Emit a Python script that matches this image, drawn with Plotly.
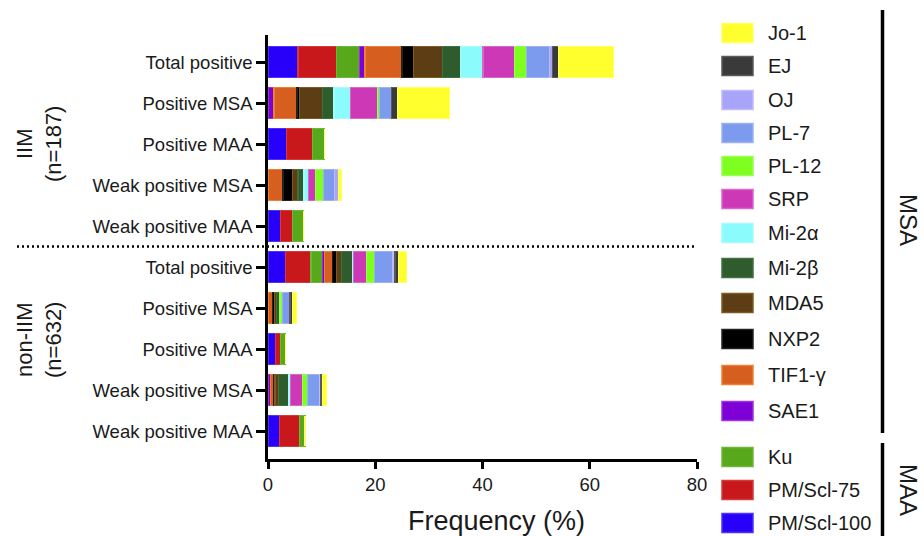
import plotly.graph_objects as go

# ---------------- data ----------------
row_labels = ["Total positive", "Positive MSA", "Positive MAA", "Weak positive MSA", "Weak positive MAA",
              "Total positive", "Positive MSA", "Positive MAA", "Weak positive MSA", "Weak positive MAA"]
row_pos = list(range(10))

antigens = ["PM/Scl-100", "PM/Scl-75", "Ku", "SAE1", "TIF1-γ", "NXP2", "MDA5", "Mi-2β",
            "Mi-2α", "SRP", "PL-12", "PL-7", "OJ", "EJ", "Jo-1"]

pm_scl_100 = [5.6, 0, 3.4, 0, 2.3, 3.2, 0, 1.4, 0, 2.2]
pm_scl_75 = [7.1, 0, 4.9, 0, 2.2, 4.8, 0, 0.9, 0, 3.6]
ku = [4.3, 0, 2.2, 0, 2.1, 2.2, 0, 1.0, 0, 1.1]
sae1 = [1.1, 1.1, 0, 0, 0, 0.3, 0, 0, 0.4, 0]
tif1g = [6.9, 4.3, 0, 2.8, 0, 1.6, 0.9, 0, 0.6, 0]
nxp2 = [2.2, 0.5, 0, 1.7, 0, 0.6, 0.25, 0, 0.3, 0]
mda5 = [5.3, 4.3, 0, 1.1, 0, 1.0, 0.5, 0, 0.6, 0]
mi2b = [3.4, 2.1, 0, 1.1, 0, 2.0, 0.6, 0, 2.0, 0]
mi2a = [4.2, 3.1, 0, 0.9, 0, 0.3, 0, 0, 0.3, 0]
srp = [5.9, 5.0, 0, 1.2, 0, 2.4, 0, 0, 2.2, 0]
pl12 = [2.2, 0.4, 0, 1.6, 0, 1.4, 0.45, 0, 0.9, 0]
pl7 = [4.3, 2.3, 0, 2.0, 0, 3.5, 1.4, 0, 2.3, 0]
oj = [0.5, 0, 0, 0.7, 0, 0.4, 0, 0, 0.3, 0]
ej = [1.1, 1.1, 0, 0, 0, 0.6, 0.45, 0, 0.3, 0]
jo1 = [10.3, 9.6, 0, 0.6, 0, 1.6, 0.7, 0, 0.75, 0]

series = [pm_scl_100, pm_scl_75, ku, sae1, tif1g, nxp2, mda5, mi2b, mi2a, srp, pl12, pl7, oj, ej, jo1]

x_ticks = [0, 20, 40, 60, 80]

legend_msa = ["Jo-1", "EJ", "OJ", "PL-7", "PL-12", "SRP", "Mi-2α", "Mi-2β", "MDA5", "NXP2", "TIF1-γ", "SAE1"]
legend_maa = ["Ku", "PM/Scl-75", "PM/Scl-100"]

# ---------------- styles ----------------
fill = {
    "Jo-1": "#FFFF2E", "EJ": "#3A3A3A", "OJ": "#A8A4FA", "PL-7": "#7D9BEE", "PL-12": "#7FFF1F",
    "SRP": "#CC38B5", "Mi-2α": "#8BFBFB", "Mi-2β": "#2E5C2C", "MDA5": "#5C3D14", "NXP2": "#000000",
    "TIF1-γ": "#D65E1E", "SAE1": "#7E00D6", "Ku": "#57A81B", "PM/Scl-75": "#C8181B", "PM/Scl-100": "#2800FA",
}
edge = {
    "Jo-1": "#FFFF66", "EJ": "#5A5A5A", "OJ": "#BEBBFB", "PL-7": "#9AB2F2", "PL-12": "#99FF55",
    "SRP": "#DA66C9", "Mi-2α": "#A5FCFC", "Mi-2β": "#426F40", "MDA5": "#7F5A22", "NXP2": "#222222",
    "TIF1-γ": "#EE8033", "SAE1": "#9A33E0", "Ku": "#6DB83A", "PM/Scl-75": "#D33A3C", "PM/Scl-100": "#4A33FB",
}

FONT = "Liberation Sans, Arial, sans-serif"
TXT = "#1a1a1a"

W, H = 924, 536
L, R, T, B = 268, 697, 35, 459


def px_x(x):
    return (x - L) / (R - L)


def px_y(y):
    return (B - y) / (B - T)


fig = go.Figure()
for name, vals in zip(antigens, series):
    fig.add_trace(go.Bar(
        x=vals, y=row_pos, orientation="h", name=name,
        marker=dict(color=fill[name], line=dict(color=edge[name], width=1.2)),
        width=0.75, showlegend=False,
    ))

shapes = []
annotations = []

# dotted separator between groups
shapes.append(dict(type="line", xref="paper", yref="y", x0=px_x(17), x1=px_x(697), y0=4.5, y1=4.5,
                   line=dict(color="black", width=2.5, dash="2px,3px")))

# right-hand brackets
shapes.append(dict(type="line", xref="paper", yref="paper", x0=px_x(882.5), x1=px_x(882.5),
                   y0=px_y(10), y1=px_y(433), line=dict(color="black", width=3.5)))
shapes.append(dict(type="line", xref="paper", yref="paper", x0=px_x(882.5), x1=px_x(882.5),
                   y0=px_y(443), y1=px_y(540), line=dict(color="black", width=3.5)))
annotations.append(dict(text="MSA", xref="paper", yref="paper", x=px_x(909), y=px_y(220),
                        showarrow=False, textangle=90, font=dict(family=FONT, size=24, color=TXT),
                        xanchor="center", yanchor="middle"))
annotations.append(dict(text="MAA", xref="paper", yref="paper", x=px_x(909), y=px_y(490),
                        showarrow=False, textangle=90, font=dict(family=FONT, size=24, color=TXT),
                        xanchor="center", yanchor="middle"))

# group labels
annotations.append(dict(text="IIM<br>(n=187)", xref="paper", yref="paper", x=px_x(39), y=px_y(144),
                        showarrow=False, textangle=-90, font=dict(family=FONT, size=22, color=TXT),
                        xanchor="center", yanchor="middle"))
annotations.append(dict(text="non-IIM<br>(n=632)", xref="paper", yref="paper", x=px_x(39), y=px_y(340),
                        showarrow=False, textangle=-90, font=dict(family=FONT, size=22, color=TXT),
                        xanchor="center", yanchor="middle"))

# axis title
annotations.append(dict(text="Frequency (%)", xref="paper", yref="paper", x=px_x(406), y=px_y(521),
                        showarrow=False, font=dict(family=FONT, size=27, color=TXT),
                        xanchor="left", yanchor="middle"))

# manual legend
legend_y_msa = [33, 66, 100, 133, 166, 199, 233, 268, 303, 339, 375, 411]
legend_y_maa = [457, 490, 523]
for name, yc in list(zip(legend_msa, legend_y_msa)) + list(zip(legend_maa, legend_y_maa)):
    shapes.append(dict(type="rect", xref="paper", yref="paper",
                       x0=px_x(722), x1=px_x(753), y0=px_y(yc - 9.5), y1=px_y(yc + 9.5),
                       fillcolor=fill[name], line=dict(color=edge[name], width=1.5)))
    annotations.append(dict(text=name, xref="paper", yref="paper", x=px_x(766), y=px_y(yc),
                            showarrow=False, font=dict(family=FONT, size=20, color=TXT),
                            xanchor="left", yanchor="middle"))

fig.update_layout(
    width=W, height=H,
    margin=dict(l=L, r=W - R, t=T, b=H - B, pad=0),
    barmode="stack", bargap=0.25,
    plot_bgcolor="white", paper_bgcolor="white",
    font=dict(family=FONT, color=TXT),
    shapes=shapes, annotations=annotations,
    xaxis=dict(range=[0, 80], tickvals=x_ticks, ticktext=[str(v) for v in x_ticks],
               showgrid=False, zeroline=False, showline=True, linecolor="black", linewidth=2.5,
               ticks="outside", ticklen=7, tickwidth=2.5, tickcolor="black",
               tickfont=dict(family=FONT, size=18.5, color=TXT)),
    yaxis=dict(range=[9.68, -0.66], tickvals=row_pos, ticktext=row_labels,
               showgrid=False, zeroline=False, showline=True, linecolor="black", linewidth=2.5,
               ticks="outside", ticklen=9, tickwidth=2.5, tickcolor="black",
               tickfont=dict(family=FONT, size=18.5, color=TXT)),
)

fig.write_html("out.html", config={"displayModeBar": False},
               post_script="document.body.style.margin='0';document.body.style.overflow='hidden';")
